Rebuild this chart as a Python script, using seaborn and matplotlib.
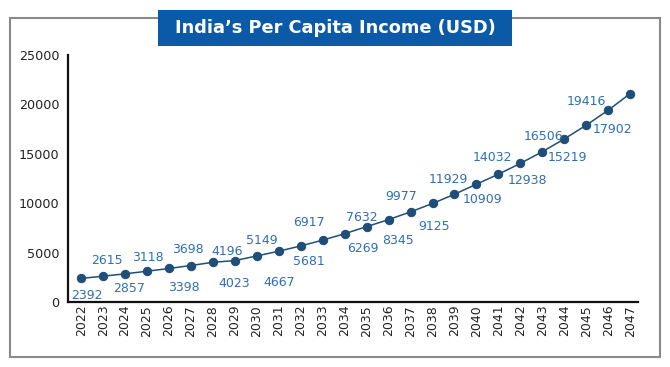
import numpy as np
import pandas as pd
import seaborn as sns
import matplotlib.pyplot as plt
from matplotlib.patches import Rectangle

years = [str(y) for y in range(2022, 2048)]
income = [2392, 2615, 2857, 3118, 3398, 3698, 4023, 4196, 4667, 5149,
          5681, 6269, 6917, 7632, 8345, 9125, 9977, 10909, 11929, 12938,
          14032, 15219, 16506, 17902, 19416, 21100]
title = "India\u2019s Per Capita Income (USD)"

# label placement relative to its point, in pixels (x right, y down);
# the last point carries no label
LABEL_OFFSETS = [(6, 17), (4, -16), (4, 15), (1, -14), (15, 19), (-3, -16),
                 (21, 21), (-8, -9), (22, 27), (-17, -11), (8, 16), (40, 8),
                 (-36, -11), (-5, -9), (9, 21), (23, 15), (-31, -7), (28, 5),
                 (-28, -5), (29, 6), (-28, -6), (25, 6), (-21, -2), (26, 4),
                 (-22, -9), None]

LINE = "#1f4e79"
LABEL = "#2e6fb3"
TITLE_BG = "#0b5aa8"


def main():
    sns.set_style("white")
    plt.rcParams["font.family"] = ["DejaVu Sans"]

    df = pd.DataFrame({"year": years, "income": income})
    df["pos"] = np.arange(len(df))

    fig = plt.figure(figsize=(6.7, 3.67), dpi=100)
    ax = fig.add_axes([0.1015, 0.177, 0.8505, 0.673])

    sns.lineplot(data=df, x="pos", y="income", ax=ax, color=LINE, lw=1.1,
                 marker="o", markersize=6, markeredgecolor=LINE, zorder=3)

    ax.set_xlim(-0.6, len(df) - 0.65)
    ax.set_ylim(0, 25000)
    ax.set_yticks(range(0, 25001, 5000))
    ax.set_xticks(df["pos"])
    ax.set_xticklabels(df["year"], rotation=90, fontsize=9, color="#222222")
    ax.tick_params(axis="y", labelsize=9.2, colors="#222222", length=0, pad=6)
    ax.tick_params(axis="x", length=0, pad=2)
    ax.set_xlabel("")
    ax.set_ylabel("")
    for s in ["top", "right"]:
        ax.spines[s].set_visible(False)
    for s in ["left", "bottom"]:
        ax.spines[s].set_color("#111111")
        ax.spines[s].set_linewidth(1.6)

    for i, (v, off) in enumerate(zip(income, LABEL_OFFSETS)):
        if off is None:
            continue
        ax.annotate(f"{v}", (i, v), xytext=(off[0], -off[1]),
                    textcoords="offset pixels", ha="center", va="center",
                    fontsize=9, color=LABEL)

    # outer frame
    fig.patches.append(Rectangle((10 / 670, 10 / 367), 650 / 670, 339 / 367,
                                 transform=fig.transFigure, fill=False,
                                 edgecolor="#8a8a8a", lw=1.5))
    # title banner
    fig.patches.append(Rectangle((158 / 670, (367 - 46) / 367), 354 / 670, 36 / 367,
                                 transform=fig.transFigure, facecolor=TITLE_BG,
                                 edgecolor="none", zorder=5))
    fig.text(0.5, (367 - 28) / 367, title, ha="center", va="center",
             color="white", fontsize=12.8, fontweight="bold", zorder=6)

    fig.savefig("out.png", dpi=100)
    plt.close(fig)


if __name__ == "__main__":
    main()
